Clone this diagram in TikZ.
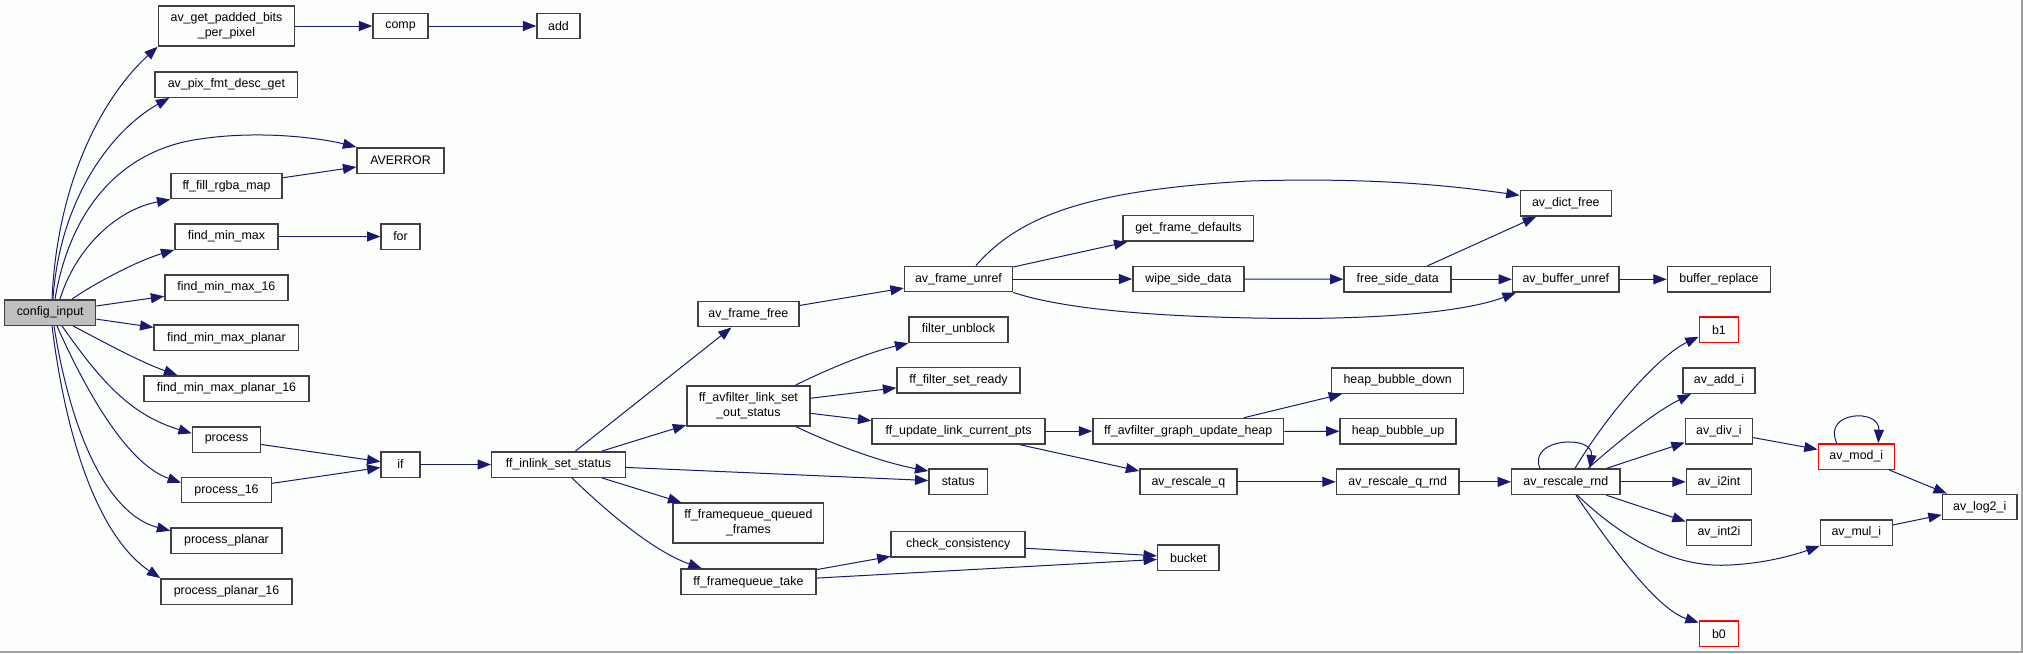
\documentclass[tikz,border=0pt]{standalone}
\usepackage{fontspec}
\setmainfont{Liberation Sans}
\usetikzlibrary{arrows.meta}
\definecolor{edgecolor}{HTML}{191970}
\definecolor{boxline}{HTML}{404040}
\definecolor{rootfill}{HTML}{BFBFBF}
\definecolor{extred}{HTML}{FF0000}
\definecolor{bgcolor}{HTML}{FCFEFC}
\definecolor{framecolor}{HTML}{A0A0A0}

\begin{document}
\begin{tikzpicture}[
    x=0.75pt, y=-0.75pt,
    every node/.style={font=\fontsize{9.3}{11.25}\selectfont},
    fn/.style={draw=boxline, line width=1.1pt, inner sep=0pt, minimum height=19.1pt, align=center},
    bw/.style={minimum width=#1*0.75pt},
    tall/.style={minimum height=30pt},
    root/.style={fill=rootfill},
    ext/.style={draw=extred},
    call/.style={edgecolor, line width=0.75pt, -{Triangle[length=10pt, width=7.5pt]}},
]
\useasboundingbox (0,0) rectangle (2023,653);
\fill[bgcolor] (0,0) rectangle (2023,653);
\draw[framecolor, line width=1.1pt] (2022,0) -- (2022,652) -- (0,652);

% caller
\node[fn, root, bw=91] (cfg) at (50.2, 312.5) {config\_input};

% first column
\node[fn, tall, bw=136.3] (padded) at (226.5, 26) {av\_get\_padded\_bits\\\_per\_pixel};
\node[fn, bw=142.7] (pixfmt) at (226.4, 84.5) {av\_pix\_fmt\_desc\_get};
\node[fn, bw=111] (fillrgba) at (226.5, 186) {ff\_fill\_rgba\_map};
\node[fn, bw=102.8] (fmm) at (226.4, 236.5) {find\_min\_max};
\node[fn, bw=123] (fmm16) at (226.4, 287.5) {find\_min\_max\_16};
\node[fn, bw=144.5] (fmmp) at (226.4, 337.8) {find\_min\_max\_planar};
\node[fn, bw=165] (fmmp16) at (226.5, 388.5) {find\_min\_max\_planar\_16};
\node[fn, bw=68] (process) at (226.5, 439.5) {process};
\node[fn, bw=89.5] (process16) at (226.5, 490) {process\_16};
\node[fn, bw=111] (pplanar) at (226.5, 540.5) {process\_planar};
\node[fn, bw=131] (pplanar16) at (226.5, 591.5) {process\_planar\_16};

% second column
\node[fn, bw=55] (comp) at (400.5, 26) {comp};
\node[fn, bw=43] (add) at (558.5, 26) {add};
\node[fn, bw=87] (averror) at (400.5, 160.5) {AVERROR};
\node[fn, bw=38.8] (for) at (400.5, 236.5) {for};
\node[fn, bw=38.8] (if) at (400.5, 464.5) {if};
\node[fn, bw=133.6] (inlink) at (558.5, 464.5) {ff\_inlink\_set\_status};

% filter link status
\node[fn, bw=101] (frfree) at (748.4, 314) {av\_frame\_free};
\node[fn, tall, bw=123] (linkout) at (748.4, 405.8) {ff\_avfilter\_link\_set\\\_out\_status};
\node[fn, tall, bw=150.5] (queued) at (748.4, 523.2) {ff\_framequeue\_queued\\\_frames};
\node[fn, bw=135] (take) at (748.4, 581.8) {ff\_framequeue\_take};

\node[fn, bw=108] (frunref) at (958.5, 279) {av\_frame\_unref};
\node[fn, bw=99] (unblock) at (958.5, 329.7) {filter\_unblock};
\node[fn, bw=123] (setready) at (958.5, 380.3) {ff\_filter\_set\_ready};
\node[fn, bw=173] (updpts) at (958.5, 431.2) {ff\_update\_link\_current\_pts};
\node[fn, bw=58.5] (status) at (958.3, 481.8) {status};
\node[fn, bw=134] (check) at (958.2, 544.3) {check\_consistency};

\node[fn, bw=130.6] (getdef) at (1188.4, 228.4) {get\_frame\_defaults};
\node[fn, bw=111] (wipe) at (1188.4, 279) {wipe\_side\_data};
\node[fn, bw=190.6] (heap) at (1188.2, 431.2) {ff\_avfilter\_graph\_update\_heap};
\node[fn, bw=97] (rescq) at (1188.4, 481.8) {av\_rescale\_q};
\node[fn, bw=61.6] (bucket) at (1188.4, 557.7) {bucket};

\node[fn, bw=107] (freeside) at (1397.7, 279.3) {free\_side\_data};
\node[fn, bw=132] (bubdown) at (1397.7, 380.5) {heap\_bubble\_down};
\node[fn, bw=115.7] (bubup) at (1398, 431.3) {heap\_bubble\_up};
\node[fn, bw=122.6] (rescqrnd) at (1397.7, 481.8) {av\_rescale\_q\_rnd};

\node[fn, bw=91] (dictfree) at (1565.8, 203.3) {av\_dict\_free};
\node[fn, bw=106.5] (bufunref) at (1565.8, 279.3) {av\_buffer\_unref};
\node[fn, bw=108.3] (rescrnd) at (1565.8, 481.8) {av\_rescale\_rnd};

% integer helpers
\node[fn, bw=103] (bufrepl) at (1718.9, 279.3) {buffer\_replace};
\node[fn, ext, bw=39] (b1) at (1718.9, 329.8) {b1};
\node[fn, bw=72] (addi) at (1719, 380.5) {av\_add\_i};
\node[fn, bw=67] (divi) at (1718.9, 431.3) {av\_div\_i};
\node[fn, bw=65] (i2int) at (1718.9, 481.8) {av\_i2int};
\node[fn, bw=65] (int2i) at (1718.9, 532.5) {av\_int2i};
\node[fn, ext, bw=39] (b0) at (1718.9, 633.8) {b0};
\node[fn, ext, bw=76] (modi) at (1856.3, 456.5) {av\_mod\_i};
\node[fn, bw=72] (muli) at (1856.3, 532.5) {av\_mul\_i};
\node[fn, bw=74.7] (log2) at (1979.7, 507) {av\_log2\_i};

% straight calls
\foreach \a/\b in {cfg/fmm16, cfg/fmmp, padded/comp, comp/add, fillrgba/averror,
    fmm/for, process/if, process16/if, if/inlink, inlink/frfree, inlink/linkout,
    inlink/status, inlink/queued, frfree/frunref, linkout/setready, linkout/updpts,
    frunref/getdef, frunref/wipe, wipe/freeside, freeside/dictfree, freeside/bufunref,
    bufunref/bufrepl, updpts/heap, updpts/rescq, heap/bubdown, heap/bubup,
    rescq/rescqrnd, rescqrnd/rescrnd, rescrnd/divi, rescrnd/i2int, rescrnd/int2i,
    divi/modi, modi/log2, muli/log2, take/check, take/bucket, check/bucket}
    \draw[call] (\a) -- (\b);

% curved calls out of config_input
\draw[call] ([xshift=1.35pt]cfg.north) .. controls (58,170) and (110,90) .. (padded.south west);
\draw[call] ([xshift=2.1pt]cfg.north) .. controls (60,195) and (115,128) .. ([xshift=11.25pt]pixfmt.south west);
\draw[call] ([xshift=3.6pt]cfg.north) .. controls (70,210) and (120,150) .. (200,139)
    .. controls (260,130) and (320,138) .. (averror.north west);
\draw[call] ([xshift=7.35pt]cfg.north) .. controls (75,250) and (115,210) .. (fillrgba.south west);
\draw[call] ([xshift=16.35pt]cfg.north) .. controls (100,280) and (140,260) .. (fmm.south west);
\draw[call] ([xshift=17.1pt]cfg.south) .. controls (100,340) and (140,362) .. ([xshift=25.5pt]fmmp16.north west);
\draw[call] ([xshift=8.85pt]cfg.south) .. controls (100,380) and (130,415) .. ([yshift=4.65pt]process.west);
\draw[call] ([xshift=5.1pt]cfg.south) .. controls (90,400) and (130,465) .. ([yshift=5.5pt]process16.west);
\draw[call] ([xshift=2.85pt]cfg.south) .. controls (72,440) and (110,515) .. ([yshift=-2.8pt]pplanar.north west);
\draw[call] ([xshift=1.35pt]cfg.south) .. controls (70,470) and (110,545) .. (pplanar16.north west);

% curved calls in the middle
\draw[call] ([xshift=10.1pt]inlink.south) .. controls (600,505) and (650,550) .. ([xshift=16.1pt]take.north west);
\draw[call] ([xshift=-11.25pt]linkout.north east) .. controls (830,368) and (870,352) .. (unblock.south west);
\draw[call] ([xshift=-11.25pt]linkout.south east) .. controls (830,443) and (880,462) .. ([yshift=-2pt]status.north west);
\draw[call] ([xshift=13.1pt]frunref.north) .. controls (1020,215) and (1090,190) .. (1250,181)
    .. controls (1380,177) and (1460,187) .. ([yshift=6pt]dictfree.west);
\draw[call] (frunref.south east) .. controls (1060,308) and (1150,318) .. (1300,318.5)
    .. controls (1400,318) and (1470,310) .. ([xshift=3pt]bufunref.south west);

% av_rescale_rnd fan
\draw[call] ([xshift=-19.35pt]rescrnd.north) .. controls (1527,438) and (1594,434) .. ([xshift=18.15pt]rescrnd.north);
\draw[call] ([xshift=6.9pt]rescrnd.north) .. controls (1610,410) and (1660,355) .. ([yshift=-5.2pt]b1.west);
\draw[call] ([xshift=16.65pt]rescrnd.north) .. controls (1620,440) and (1655,412) .. ([xshift=6.5pt]addi.south west);
\draw[call] ([xshift=8.6pt]rescrnd.south) .. controls (1630,545) and (1680,568) .. (1730,565)
    .. controls (1770,563) and (1800,553) .. (muli.south west);
\draw[call] ([xshift=7.65pt]rescrnd.south) .. controls (1620,560) and (1660,610) .. ([yshift=-1.7pt]b0.north west);
\draw[call] ([xshift=-14.7pt]modi.north) .. controls (1822,411) and (1880,408) .. ([xshift=16.5pt]modi.north);
\end{tikzpicture}
\end{document}
